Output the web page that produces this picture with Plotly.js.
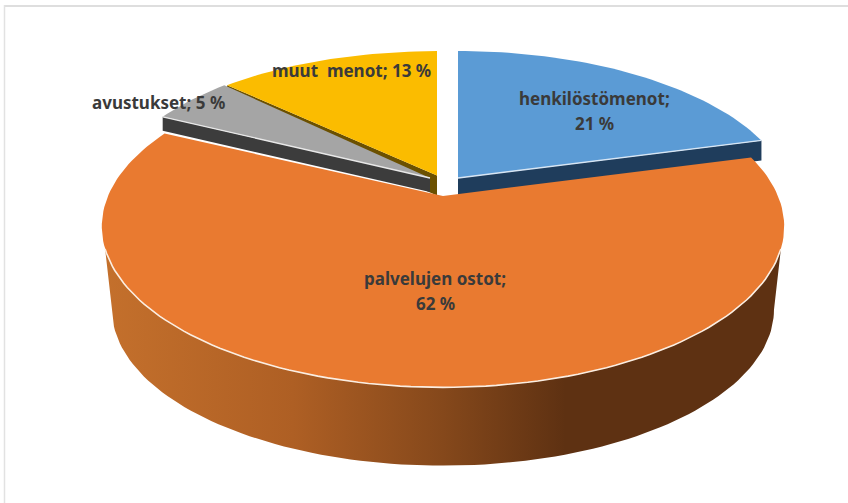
<!DOCTYPE html>
<html><head><meta charset="utf-8">
<script src="https://cdn.plot.ly/plotly-3.0.1.min.js"></script>
<style>html,body{margin:0;padding:0;background:#fff}#c{width:848px;height:503px}</style>
</head><body><div id="c"></div>
<script>
var categories = ['henkilöstömenot','palvelujen ostot','avustukset','muut menot'];
var values = [21,62,5,13];
var topColors = ['#5B9BD5','#E97A30','#A5A5A5','#FBBC00'];
var wallColors = ['#1F3D5C','#7a4018','#3C3C3C','#6B5000'];
// perspective model of the tilted disc
var A=335,B=155,P=0.19;
var apexX=[458,443,430,437], apexY=[178,196,178,175.5], scaleX=[0.985,1,0.96,0.98], scaleY=[0.975,1,0.98,0.955];
var wallDepth=[20,84,14,20];

var total=values.reduce(function(a,b){return a+b},0);
var startAngle=[],endAngle=[],acc=0;
values.forEach(function(v){startAngle.push(acc/total*360);acc+=v;endAngle.push(acc/total*360)});
function pt(i,deg,s,dy){
  var t=deg*Math.PI/180,u=Math.sin(t),v=Math.cos(t),d=1+P*v;s=s||1;
  return [apexX[i]+A*scaleX[i]*s*u/d, apexY[i]-B*scaleY[i]*s*v/d+(dy||0)];
}
function arc(i,a0,a1,s,dy){
  var n=Math.max(2,Math.ceil(Math.abs(a1-a0)/1.5)),o=[];
  for(var k=0;k<=n;k++)o.push(pt(i,a0+(a1-a0)*k/n,s,dy));
  return o;
}
function poly(points,color,name){
  return {type:'scatter',mode:'lines',x:points.map(function(p){return p[0]}),y:points.map(function(p){return p[1]}),
    fill:'toself',fillcolor:color,line:{width:0,color:color},hoverinfo:'skip',name:name,showlegend:false};
}
function line(points,color,w){
  return {type:'scatter',mode:'lines',x:points.map(function(p){return p[0]}),y:points.map(function(p){return p[1]}),
    line:{width:w,color:color},hoverinfo:'skip',showlegend:false};
}
function topFace(i){return [[apexX[i],apexY[i]]].concat(arc(i,startAngle[i],endAngle[i])).concat([[apexX[i],apexY[i]]])}
function cutWall(i,deg){
  var a=[apexX[i],apexY[i]],e=pt(i,deg),d=wallDepth[i];
  return [a,e,[e[0],e[1]+d],[a[0],a[1]+d],a];
}
var traces=[];
traces.push(poly(cutWall(3,startAngle[3]),wallColors[3],categories[3]));
traces.push(poly(topFace(3),topColors[3],categories[3]));
traces.push(poly(cutWall(2,startAngle[2]),wallColors[2],categories[2]));
traces.push(poly(topFace(2),topColors[2],categories[2]));
traces.push(line([[apexX[2],apexY[2]],pt(2,startAngle[2])],'#e8e8e8',1.3));
traces.push(poly(cutWall(0,endAngle[0]),wallColors[0],categories[0]));
traces.push(poly(topFace(0),topColors[0],categories[0]));
traces.push(line([[apexX[0],apexY[0]],pt(0,endAngle[0])],'#d8e6f4',1.5));
var wallTop=arc(1,108.7,251.3), wallBottom=arc(1,259,101,0.97,84);
var wall=poly(wallTop.concat(wallBottom).concat([wallTop[0]]),wallColors[1],categories[1]);
wall.fillgradient={type:'horizontal',start:103,stop:783,colorscale:[[0,'#C4702C'],[0.28,'#AE5F24'],[0.5,'#85481B'],[0.68,'#5E3112'],[1,'#5E3112']]};
traces.push(wall);
traces.push(poly(topFace(1),topColors[1],categories[1]));
traces.push(line(arc(1,108.7,251.3),'#fbeee2',1.6));

var labelLines=[[categories[0]+';',values[0]+' %'],[categories[1]+';',values[1]+' %'],[categories[2]+'; '+values[2]+' %'],[categories[3].replace(' ','  ')+'; '+values[3]+' %']];
var labelX=[594,435,158,351], labelY=[98,278,102,70], lineGap=25;
var annotations=[];
labelLines.forEach(function(ls,i){ls.forEach(function(t,j){
  annotations.push({x:labelX[i],y:labelY[i]+j*lineGap,xref:'x',yref:'y',text:'<b>'+t+'</b>',showarrow:false,xanchor:'center',yanchor:'middle',
    font:{family:'"Noto Sans","Open Sans",sans-serif',size:17,color:'#3A3A3A'}});
})});

Plotly.newPlot('c',traces,{
  width:848,height:503,margin:{l:0,r:0,t:0,b:0},paper_bgcolor:'#fff',plot_bgcolor:'#fff',showlegend:false,
  xaxis:{range:[0,848],visible:false,fixedrange:true},
  yaxis:{range:[503,0],visible:false,fixedrange:true},
  annotations:annotations,
  shapes:[
    {type:'line',xref:'x',yref:'y',x0:4,y0:6,x1:848,y1:6,line:{color:'#DEDEDE',width:2}},
    {type:'line',xref:'x',yref:'y',x0:4.5,y0:5,x1:4.5,y1:503,line:{color:'#E2E2E2',width:1.5}}
  ]
},{staticPlot:true,displayModeBar:false});
</script></body></html>
